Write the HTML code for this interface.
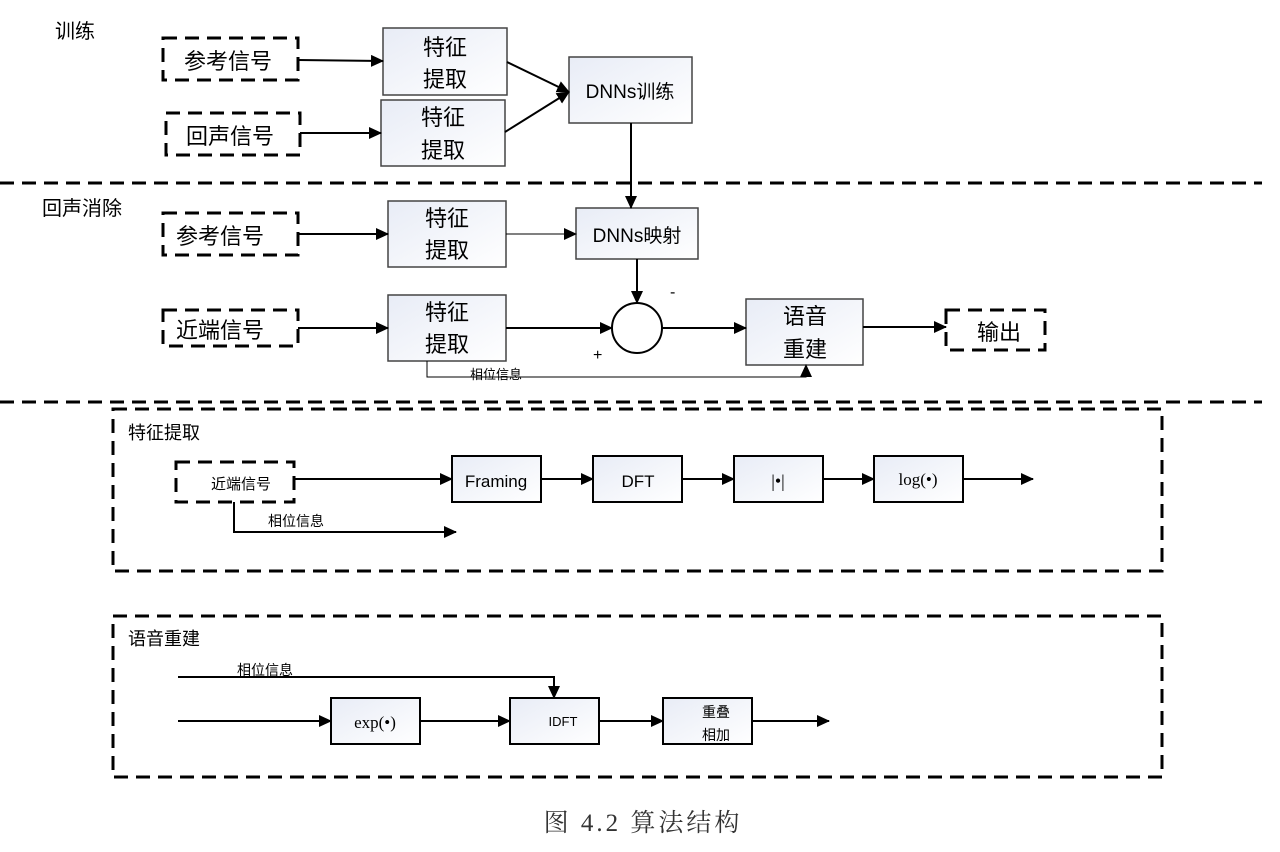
<!DOCTYPE html>
<html><head><meta charset="utf-8"><style>
body{margin:0;background:#fff}
svg text{font-family:"Liberation Sans","Noto Sans CJK SC",sans-serif;fill:#000}
</style></head><body>
<svg width="1280" height="847" xmlns="http://www.w3.org/2000/svg">
<defs><marker id="a" markerWidth="13" markerHeight="12" refX="12" refY="6" orient="auto" markerUnits="userSpaceOnUse"><path d="M0,0L13,6L0,12z" fill="#000"/></marker>
<linearGradient id="g" x1="0" y1="0" x2="1" y2="1"><stop offset="0" stop-color="#e8ecf6"/><stop offset="1" stop-color="#fff"/></linearGradient></defs>
<g stroke="#000" fill="none">
<g stroke-width="3" stroke-dasharray="14,8">
<rect x="163" y="38" width="135" height="42"/>
<rect x="166" y="113" width="134" height="42"/>
<rect x="163" y="213" width="135" height="42"/>
<rect x="163" y="310" width="135" height="36"/>
<rect x="946" y="310" width="99" height="40"/>
<rect x="176" y="462" width="118" height="40"/>
<line x1="0" y1="183" x2="1262" y2="183"/>
<line x1="0" y1="402" x2="1262" y2="402"/>
<rect x="113" y="409" width="1049" height="162"/>
<rect x="113" y="616" width="1049" height="161"/>
</g>
<g stroke-width="1.5" fill="url(#g)" stroke="#444">
<rect x="383" y="28" width="124" height="67"/>
<rect x="381" y="100" width="124" height="66"/>
<rect x="569" y="57" width="123" height="66"/>
<rect x="388" y="201" width="118" height="66"/>
<rect x="576" y="208" width="122" height="51"/>
<rect x="388" y="295" width="118" height="66"/>
<rect x="746" y="299" width="117" height="66"/>
</g>
<g stroke-width="2" fill="url(#g)">
<rect x="452" y="456" width="89" height="46"/>
<rect x="593" y="456" width="89" height="46"/>
<rect x="734" y="456" width="89" height="46"/>
<rect x="874" y="456" width="89" height="46"/>
<rect x="331" y="698" width="89" height="46"/>
<rect x="510" y="698" width="89" height="46"/>
<rect x="663" y="698" width="89" height="46"/>
</g>
<circle cx="637" cy="328" r="25" stroke-width="2" fill="#fff"/>
<g stroke-width="2" marker-end="url(#a)">
<line x1="298" y1="60" x2="383" y2="61"/>
<line x1="300" y1="133" x2="381" y2="133"/>
<line x1="507" y1="62" x2="569" y2="92"/>
<line x1="505" y1="132" x2="569" y2="92"/>
<line x1="631" y1="123" x2="631" y2="208"/>
<line x1="298" y1="234" x2="388" y2="234"/>
<line x1="298" y1="328" x2="388" y2="328"/>
<line x1="637" y1="259" x2="637" y2="303"/>
<line x1="506" y1="328" x2="612" y2="328"/>
<line x1="662" y1="328" x2="746" y2="328"/>
<line x1="863" y1="327" x2="946" y2="327"/>
<line x1="294" y1="479" x2="452" y2="479"/>
<line x1="541" y1="479" x2="593" y2="479"/>
<line x1="682" y1="479" x2="734" y2="479"/>
<line x1="823" y1="479" x2="874" y2="479"/>
<line x1="963" y1="479" x2="1033" y2="479"/>
<polyline points="234,502 234,532 456,532"/>
<polyline points="178,677 554,677 554,698"/>
<line x1="178" y1="721" x2="331" y2="721"/>
<line x1="420" y1="721" x2="510" y2="721"/>
<line x1="599" y1="721" x2="663" y2="721"/>
<line x1="752" y1="721" x2="829" y2="721"/>
</g>
<line x1="506" y1="234" x2="576" y2="234" stroke-width="1" marker-end="url(#a)"/>
<polyline points="427,361 427,377 806,377 806,365" stroke-width="1" marker-end="url(#a)"/>
</g>
<g font-size="22">
<text x="55" y="38" font-size="20">训练</text>
<text x="42" y="215" font-size="20">回声消除</text>
<text x="184" y="69">参考信号</text>
<text x="186" y="144">回声信号</text>
<text x="176" y="244">参考信号</text>
<text x="176" y="338">近端信号</text>
<text x="977" y="340">输出</text>
<text x="445" y="55" text-anchor="middle">特征</text><text x="445" y="87" text-anchor="middle">提取</text>
<text x="443" y="125" text-anchor="middle">特征</text><text x="443" y="158" text-anchor="middle">提取</text>
<text x="447" y="226" text-anchor="middle">特征</text><text x="447" y="258" text-anchor="middle">提取</text>
<text x="447" y="320" text-anchor="middle">特征</text><text x="447" y="352" text-anchor="middle">提取</text>
<text x="805" y="324" text-anchor="middle">语音</text><text x="805" y="357" text-anchor="middle">重建</text>
<text x="630" y="98" text-anchor="middle" font-size="19">DNNs训练</text>
<text x="637" y="242" text-anchor="middle" font-size="19">DNNs映射</text>
<text x="670" y="297" font-size="16">-</text>
<text x="593" y="360" font-size="16">+</text>
</g>
<text x="470" y="379" font-size="13">相位信息</text>
<text x="128" y="439" font-size="18">特征提取</text>
<text x="128" y="645" font-size="18">语音重建</text>
<text x="211" y="489" font-size="15">近端信号</text>
<text x="268" y="526" font-size="14">相位信息</text>
<text x="237" y="675" font-size="14">相位信息</text>
<text x="496" y="487" font-size="17" text-anchor="middle">Framing</text>
<text x="638" y="487" font-size="17" text-anchor="middle">DFT</text>
<text x="778" y="487" font-size="18" text-anchor="middle" style="font-family:'Liberation Serif',serif">|•|</text>
<text x="918" y="485" font-size="17" text-anchor="middle" style="font-family:'Liberation Serif',serif">log(•)</text>
<text x="375" y="728" font-size="17" text-anchor="middle" style="font-family:'Liberation Serif',serif">exp(•)</text>
<text x="563" y="726" font-size="13" text-anchor="middle">IDFT</text>
<text x="716" y="717" font-size="14" text-anchor="middle">重叠</text>
<text x="716" y="740" font-size="14" text-anchor="middle">相加</text>
<text x="643" y="831" font-size="25" text-anchor="middle" letter-spacing="3" style="font-family:'Liberation Serif','Noto Serif CJK SC',serif;fill:#333">图 4.2 算法结构</text>
</svg>
</body></html>
